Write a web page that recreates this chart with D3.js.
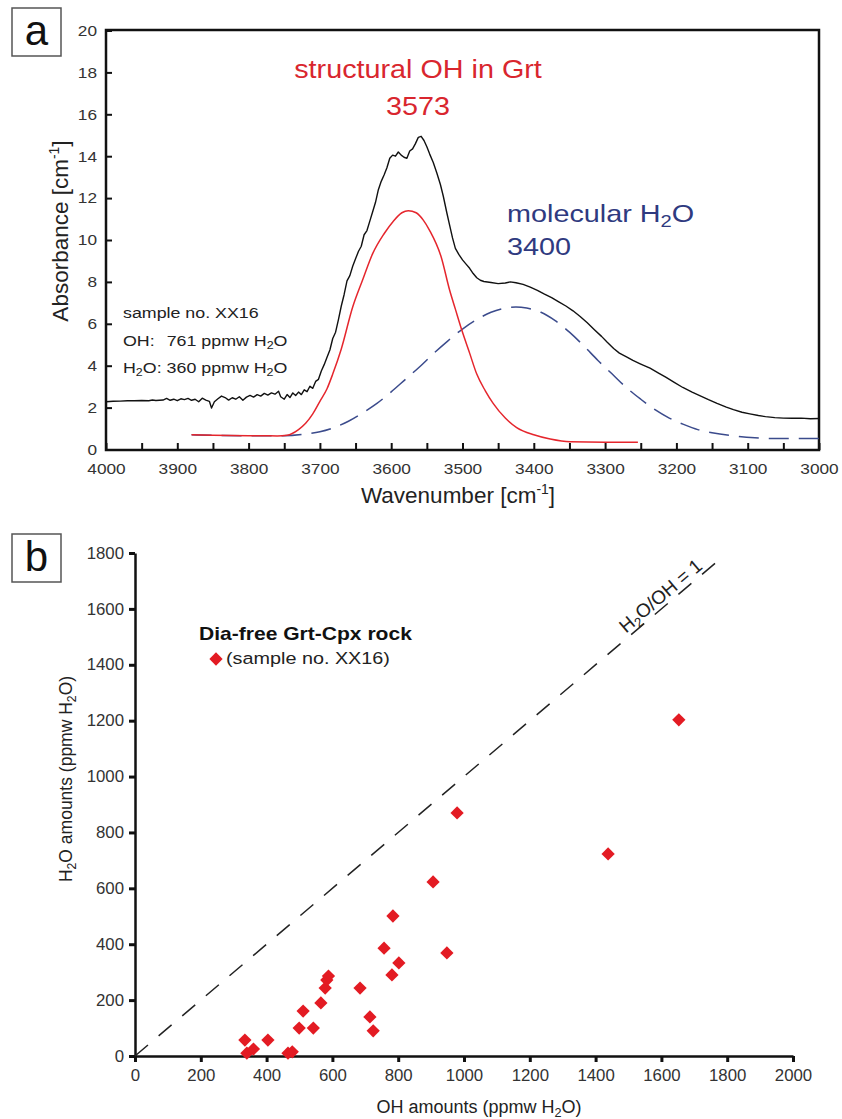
<!DOCTYPE html>
<html>
<head>
<meta charset="utf-8">
<script src="https://cdn.jsdelivr.net/npm/d3@7"></script>
<style>
  body { margin: 0; background: #fff; }
  text { font-family: Arial, "Liberation Sans", sans-serif; }
</style>
</head>
<body>
<script>
// ---- panel a: FTIR spectrum ----
const spectrumWavenumber = [4000, 3990, 3980, 3970, 3960, 3950, 3940, 3935, 3930, 3920, 3915, 3910, 3905, 3900, 3895, 3890, 3885, 3880, 3875, 3870, 3865, 3860, 3855, 3852, 3848, 3843, 3838, 3833, 3828, 3823, 3818, 3813, 3808, 3803, 3798, 3793, 3788, 3783, 3778, 3773, 3768, 3763, 3758, 3755, 3750, 3746, 3742, 3738, 3734, 3730, 3726, 3722, 3718, 3714, 3710, 3706, 3702, 3698, 3694, 3690, 3686, 3682, 3678, 3674, 3670, 3666, 3662, 3658, 3654, 3650, 3646, 3642, 3638, 3634, 3630, 3626, 3622, 3618, 3614, 3610, 3606, 3602, 3598, 3594, 3590, 3586, 3582, 3578, 3574, 3570, 3566, 3562, 3558, 3554, 3550, 3546, 3541, 3536, 3531, 3527, 3522, 3518, 3514, 3510, 3505, 3500, 3495, 3490, 3485, 3480, 3475, 3470, 3460, 3450, 3440, 3433, 3425, 3415, 3405, 3395, 3385, 3375, 3365, 3355, 3345, 3335, 3325, 3315, 3305, 3297, 3288, 3280, 3270, 3261, 3250, 3237, 3225, 3215, 3203, 3191, 3178, 3165, 3155, 3143, 3130, 3120, 3108, 3097, 3085, 3075, 3062, 3050, 3038, 3025, 3012, 3000];
const spectrumAbsorbance = [2.28, 2.30, 2.31, 2.33, 2.33, 2.34, 2.33, 2.36, 2.34, 2.36, 2.44, 2.35, 2.40, 2.33, 2.42, 2.38, 2.44, 2.35, 2.40, 2.28, 2.45, 2.36, 2.30, 1.98, 2.28, 2.42, 2.55, 2.48, 2.36, 2.47, 2.40, 2.52, 2.35, 2.50, 2.58, 2.50, 2.62, 2.55, 2.68, 2.60, 2.70, 2.64, 2.78, 2.52, 2.40, 2.62, 2.48, 2.70, 2.58, 2.74, 2.62, 2.85, 2.76, 3.02, 2.92, 3.25, 3.35, 3.75, 4.05, 4.40, 4.75, 5.30, 5.60, 6.20, 6.85, 7.40, 8.05, 8.30, 8.75, 9.10, 9.45, 9.70, 10.25, 10.45, 10.90, 11.35, 11.80, 12.40, 12.80, 13.10, 13.45, 13.90, 14.05, 14.00, 14.20, 14.05, 13.95, 13.90, 14.25, 14.35, 14.60, 14.90, 14.95, 14.75, 14.45, 14.10, 13.70, 13.20, 12.65, 12.10, 11.30, 10.70, 10.10, 9.60, 9.30, 9.05, 8.85, 8.65, 8.40, 8.20, 8.08, 8.02, 7.97, 7.92, 7.95, 8.00, 7.96, 7.88, 7.75, 7.60, 7.42, 7.25, 7.05, 6.85, 6.62, 6.35, 6.05, 5.72, 5.40, 5.12, 4.82, 4.60, 4.42, 4.25, 4.08, 3.88, 3.65, 3.45, 3.20, 2.96, 2.74, 2.54, 2.38, 2.20, 2.02, 1.90, 1.78, 1.70, 1.62, 1.57, 1.52, 1.50, 1.49, 1.50, 1.47, 1.48];

const ohBandWavenumber = [3880, 3850, 3800, 3760, 3746, 3730, 3720, 3710, 3700, 3690, 3682, 3670, 3654, 3640, 3626, 3610, 3597, 3585, 3576, 3565, 3555, 3546, 3530, 3518, 3510, 3501, 3490, 3480, 3468, 3457, 3440, 3424, 3400, 3377, 3349, 3300, 3254];
const ohBandAbsorbance = [0.70, 0.68, 0.66, 0.65, 0.68, 0.95, 1.25, 1.70, 2.30, 2.90, 3.60, 4.80, 6.80, 8.10, 9.35, 10.30, 10.90, 11.30, 11.40, 11.30, 10.95, 10.45, 9.20, 7.60, 6.70, 5.70, 4.60, 3.60, 2.80, 2.20, 1.50, 1.05, 0.70, 0.50, 0.37, 0.35, 0.35];

const h2oBandWavenumber = [3880, 3800, 3750, 3720, 3700, 3680, 3660, 3640, 3620, 3600, 3580, 3560, 3540, 3520, 3500, 3480, 3460, 3440, 3425, 3410, 3390, 3370, 3350, 3330, 3310, 3290, 3270, 3250, 3230, 3210, 3190, 3170, 3150, 3120, 3090, 3060, 3000];
const h2oBandAbsorbance = [0.70, 0.66, 0.66, 0.74, 0.85, 1.05, 1.35, 1.75, 2.20, 2.75, 3.35, 3.95, 4.60, 5.20, 5.75, 6.20, 6.55, 6.75, 6.80, 6.75, 6.55, 6.15, 5.60, 4.95, 4.25, 3.60, 2.95, 2.40, 1.90, 1.50, 1.20, 0.95, 0.80, 0.65, 0.56, 0.52, 0.52];

const wavenumberTicks = [4000, 3950, 3900, 3850, 3800, 3750, 3700, 3650, 3600, 3550, 3500, 3450, 3400, 3350, 3300, 3250, 3200, 3150, 3100, 3050, 3000];
const wavenumberLabels = [4000, 3900, 3800, 3700, 3600, 3500, 3400, 3300, 3200, 3100, 3000];
const absorbanceTicks = [0, 2, 4, 6, 8, 10, 12, 14, 16, 18, 20];

// ---- panel b: H2O vs OH ----
const ohAmount = [334, 340, 360, 404, 465, 478, 499, 511, 542, 565, 578, 583, 588, 684, 714, 724, 757, 781, 784, 802, 906, 948, 979, 1438, 1653];
const h2oAmount = [57, 10, 25, 57, 10, 15, 100, 161, 100, 190, 243, 272, 286, 243, 140, 90, 386, 290, 501, 333, 623, 369, 870, 723, 1203];
const ohTicks = [0, 200, 400, 600, 800, 1000, 1200, 1400, 1600, 1800, 2000];
const h2oTicks = [0, 200, 400, 600, 800, 1000, 1200, 1400, 1600, 1800];
const ratioLineEnd = 1785;

const W = 842, H = 1119;
const svg = d3.select('body').append('svg').attr('width', W).attr('height', H);
svg.append('rect').attr('width', W).attr('height', H).attr('fill', '#fff');

// text drawn inside a horizontally stretched group
function label(parent, x, y, size, opts = {}) {
    const g = parent.append('g')
        .attr('transform', `translate(${x},${y}) scale(${opts.sx || 1},1)`);
    return g.append('text')
        .attr('font-size', size)
        .attr('text-anchor', opts.anchor || 'start')
        .attr('font-weight', opts.bold ? 'bold' : null)
        .attr('fill', opts.fill || '#222')
        .style('white-space', 'pre');
}
function sub(t, size, s) {
    t.append('tspan').attr('font-size', size * 0.7).attr('dy', size * 0.22).text(s);
    return t.append('tspan').attr('dy', -size * 0.22);
}
function sup(t, size, s) {
    t.append('tspan').attr('font-size', size * 0.62).attr('dy', -size * 0.4).text(s);
    return t.append('tspan').attr('dy', size * 0.4);
}
function stretchTicks(g, s) {
    g.selectAll('.tick text').each(function () {
        const x0 = +d3.select(this).attr('x') || 0;
        d3.select(this).attr('transform', `translate(${x0},0) scale(${s},1) translate(${-x0},0)`);
    });
}
function panelTag(x, y, letter) {
    svg.append('rect').attr('x', x).attr('y', y).attr('width', 49).attr('height', 48)
        .attr('fill', '#fff').attr('stroke', '#555').attr('stroke-width', 1.5);
    svg.append('text').attr('x', x + 24.5).attr('y', y + 37).attr('text-anchor', 'middle')
        .attr('font-size', 42).attr('fill', '#111').text(letter);
}

// ================= panel a =================
const ax = d3.scaleLinear().domain([4000, 3000]).range([106, 819]);
const ay = d3.scaleLinear().domain([0, 20]).range([449.5, 30.5]);

const xAxisA = svg.append('g').attr('transform', 'translate(0,450)')
    .call(d3.axisBottom(ax).tickValues(wavenumberTicks)
        .tickFormat(d => wavenumberLabels.includes(d) ? d : '')
        .tickSizeInner(-7).tickSizeOuter(0).tickPadding(13));
xAxisA.select('.domain').remove();
xAxisA.selectAll('.tick line').attr('stroke', '#111').attr('stroke-width', 2);
xAxisA.selectAll('.tick text').attr('font-size', 15).attr('fill', '#333').attr('font-family', null);
stretchTicks(xAxisA, 1.15);

const yAxisA = svg.append('g').attr('transform', 'translate(106,0)')
    .call(d3.axisLeft(ay).tickValues(absorbanceTicks)
        .tickSizeInner(-6).tickSizeOuter(0).tickPadding(9));
yAxisA.select('.domain').remove();
yAxisA.selectAll('.tick line').attr('stroke', '#111').attr('stroke-width', 2);
yAxisA.selectAll('.tick text').attr('font-size', 15).attr('fill', '#333').attr('font-family', null);
stretchTicks(yAxisA, 1.15);

svg.append('rect').attr('x', 106).attr('y', 30).attr('width', 713).attr('height', 420)
    .attr('fill', 'none').attr('stroke', '#111').attr('stroke-width', 2.5);

const lineA = d3.line().x(d => ax(d[0])).y(d => ay(d[1]));
const smoothA = d3.line().x(d => ax(d[0])).y(d => ay(d[1])).curve(d3.curveMonotoneX);

svg.append('path')
    .attr('d', smoothA(d3.zip(h2oBandWavenumber, h2oBandAbsorbance)))
    .attr('fill', 'none').attr('stroke', '#3b4b8c').attr('stroke-width', 1.5)
    .attr('stroke-dasharray', '20,10');
svg.append('path')
    .attr('d', smoothA(d3.zip(ohBandWavenumber, ohBandAbsorbance)))
    .attr('fill', 'none').attr('stroke', '#e5262d').attr('stroke-width', 1.5);
svg.append('path')
    .attr('d', lineA(d3.zip(spectrumWavenumber, spectrumAbsorbance)))
    .attr('fill', 'none').attr('stroke', '#111').attr('stroke-width', 1.4)
    .attr('stroke-linejoin', 'round');

// annotations
label(svg, 418, 78, 25, { anchor: 'middle', sx: 1.15, fill: '#d9262e' }).text('structural OH in Grt');
label(svg, 418, 115, 25, { anchor: 'middle', sx: 1.15, fill: '#d9262e' }).text('3573');
let t = label(svg, 507, 222, 24, { sx: 1.2, fill: '#2f3a80' });
t.append('tspan').text('molecular H');
sub(t, 24, '2').text('O');
label(svg, 507, 255, 24, { sx: 1.2, fill: '#2f3a80' }).text('3400');

label(svg, 123, 318, 15.5, { sx: 1.15 }).text('sample no. XX16');
t = label(svg, 123, 346, 15.5, { sx: 1.15 });
t.append('tspan').text('OH:');
t.append('tspan').attr('x', 38).text('761 ppmw H');
sub(t, 15.5, '2').text('O');
t = label(svg, 123, 373, 15.5, { sx: 1.15 });
t.append('tspan').text('H');
sub(t, 15.5, '2').text('O: 360 ppmw H');
sub(t, 15.5, '2').text('O');

// axis titles
t = svg.append('text').attr('x', 458).attr('y', 503).attr('text-anchor', 'middle')
    .attr('font-size', 22.5).attr('fill', '#222');
t.append('tspan').text('Wavenumber [cm');
sup(t, 22.5, '-1').text(']');
t = svg.append('text').attr('transform', 'translate(68,231) rotate(-90)').attr('text-anchor', 'middle')
    .attr('font-size', 22.5).attr('fill', '#222');
t.append('tspan').text('Absorbance [cm');
sup(t, 22.5, '-1').text(']');

panelTag(12, 8, 'a');

// ================= panel b =================
const bx = d3.scaleLinear().domain([0, 2000]).range([135, 793]);
const by = d3.scaleLinear().domain([0, 1800]).range([1056, 553]);

const xAxisB = svg.append('g').attr('transform', 'translate(0,1056)')
    .call(d3.axisBottom(bx).tickValues(ohTicks).tickFormat(d3.format('d'))
        .tickSizeInner(6).tickSizeOuter(0).tickPadding(8));
xAxisB.select('.domain').attr('stroke', '#111').attr('stroke-width', 2.5);
xAxisB.selectAll('.tick line').attr('stroke', '#111').attr('stroke-width', 3);
xAxisB.selectAll('.tick text').attr('font-size', 16).attr('fill', '#333').attr('font-family', null);
stretchTicks(xAxisB, 1.05);

const yAxisB = svg.append('g').attr('transform', 'translate(135,0)')
    .call(d3.axisLeft(by).tickValues(h2oTicks).tickFormat(d3.format('d'))
        .tickSizeInner(6).tickSizeOuter(0).tickPadding(5));
yAxisB.select('.domain').attr('stroke', '#111').attr('stroke-width', 2.5);
yAxisB.selectAll('.tick line').attr('stroke', '#111').attr('stroke-width', 3);
yAxisB.selectAll('.tick text').attr('font-size', 16).attr('fill', '#333').attr('font-family', null);
stretchTicks(yAxisB, 1.05);

// 1:1 line
svg.append('path')
    .attr('d', d3.line().x(d => bx(d)).y(d => by(d))([0, ratioLineEnd]))
    .attr('fill', 'none').attr('stroke', '#222').attr('stroke-width', 1.5)
    .attr('stroke-dasharray', '17,14');
const theta = Math.atan2(by(1000) - by(0), bx(1000) - bx(0));
const lx = bx(1500) + Math.sin(theta) * 4, ly = by(1500) - Math.cos(theta) * 4;
t = svg.append('text')
    .attr('transform', `translate(${lx},${ly}) rotate(${theta * 180 / Math.PI})`)
    .attr('font-size', 19).attr('fill', '#222');
t.append('tspan').text('H');
sub(t, 19, '2').text('O/OH = 1');

const diamond = d3.symbol(d3.symbolSquare, 88);
svg.append('g').selectAll('path')
    .data(d3.zip(ohAmount, h2oAmount))
    .join('path')
    .attr('d', diamond)
    .attr('transform', d => `translate(${bx(d[0])},${by(d[1])}) rotate(45)`)
    .attr('fill', '#e31b23');

// legend
label(svg, 199, 640, 18, { bold: true, sx: 1.17, fill: '#111' }).text('Dia-free Grt-Cpx rock');
svg.append('path').attr('d', diamond).attr('transform', 'translate(216,659) rotate(45)').attr('fill', '#e31b23');
label(svg, 226, 664, 16.5, { sx: 1.2 }).text('(sample no. XX16)');

// axis titles
t = svg.append('text').attr('x', 479).attr('y', 1113).attr('text-anchor', 'middle')
    .attr('font-size', 18).attr('fill', '#222');
t.append('tspan').text('OH amounts (ppmw H');
sub(t, 18, '2').text('O)');
t = svg.append('text').attr('transform', 'translate(72,779) rotate(-90)').attr('text-anchor', 'middle')
    .attr('font-size', 17.5).attr('fill', '#222');
t.append('tspan').text('H');
sub(t, 17.5, '2').text('O amounts (ppmw H');
sub(t, 17.5, '2').text('O)');

panelTag(12, 534, 'b');
</script>
</body>
</html>
